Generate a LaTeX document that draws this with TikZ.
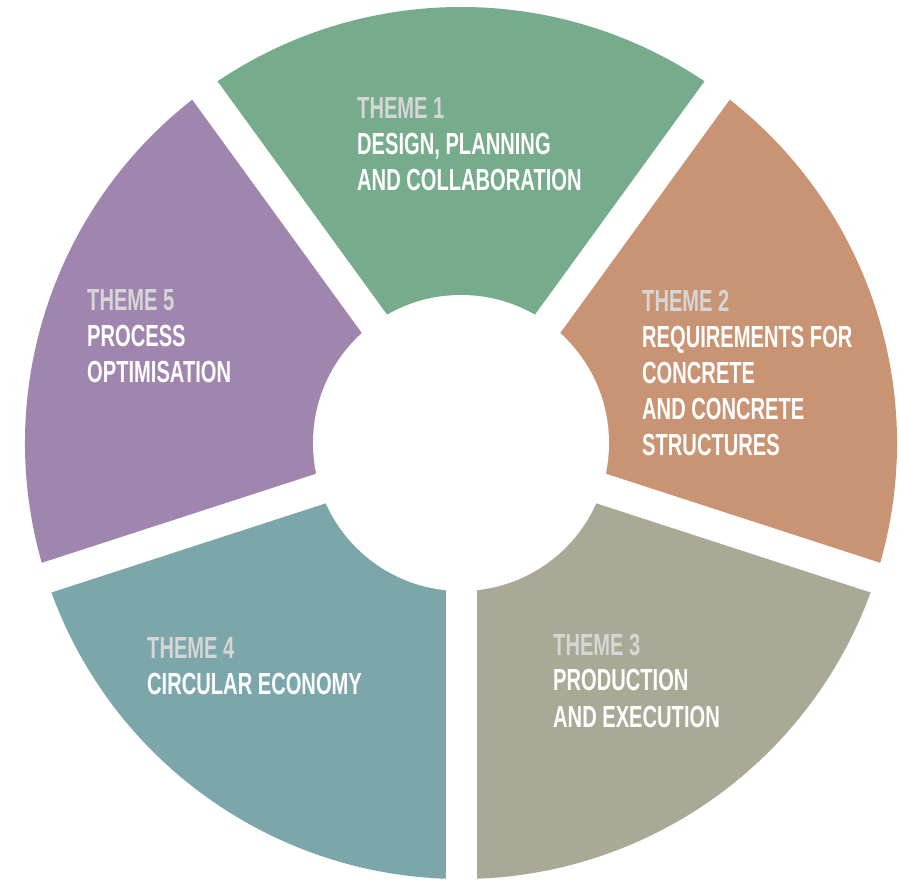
\documentclass[tikz,border=0pt]{standalone}
\usepackage{fontspec}
\usepackage{tikz}
\newfontfamily\wheelfont[FakeStretch=0.66]{Liberation Sans}
\definecolor{themegreen}{RGB}{118,171,140}
\definecolor{themeorange}{RGB}{201,148,116}
\definecolor{themegrey}{RGB}{169,169,150}
\definecolor{themeteal}{RGB}{123,167,171}
\definecolor{themepurple}{RGB}{160,133,175}
\definecolor{themenum}{RGB}{214,214,214}
\newcommand{\themeno}[1]{\textcolor{themenum}{THEME #1}}

\begin{document}
\begin{tikzpicture}[x=1pt, y=1pt,
  theme/.style={anchor=base west, align=left, inner sep=0pt, text=white,
    font=\wheelfont\bfseries\fontsize{30.5}{36}\selectfont},
  gap/.style={draw=white, line width=31pt}]
\useasboundingbox (0,0) rectangle (899,881);
\coordinate (ctr) at (461,438);
\foreach \a/\col in {90/themegreen, 18/themeorange, -54/themegrey,
    -126/themeteal, 162/themepurple}
  \fill[\col] (ctr) -- ++(\a-36:436)
    arc[start angle=\a-36, end angle=\a+36, radius=436] -- cycle;
\fill[white] (ctr) circle[radius=148];
\foreach \a in {54,126,198,270,-18}
  \draw[gap] (ctr) -- ++(\a:440);
\node (t1) [theme] at (357,690)
  {\themeno{1}\\DESIGN, PLANNING\\AND COLLABORATION};
\node (t2) [theme] at (642,425)
  {\themeno{2}\\REQUIREMENTS FOR\\CONCRETE\\AND CONCRETE\\STRUCTURES};
\node (t3) [theme] at (553,154)
  {\themeno{3}\\PRODUCTION\\AND EXECUTION};
\node (t4) [theme] at (147,186)
  {\themeno{4}\\CIRCULAR ECONOMY};
\node (t5) [theme] at (87,498)
  {\themeno{5}\\PROCESS\\OPTIMISATION};
\end{tikzpicture}
\end{document}
